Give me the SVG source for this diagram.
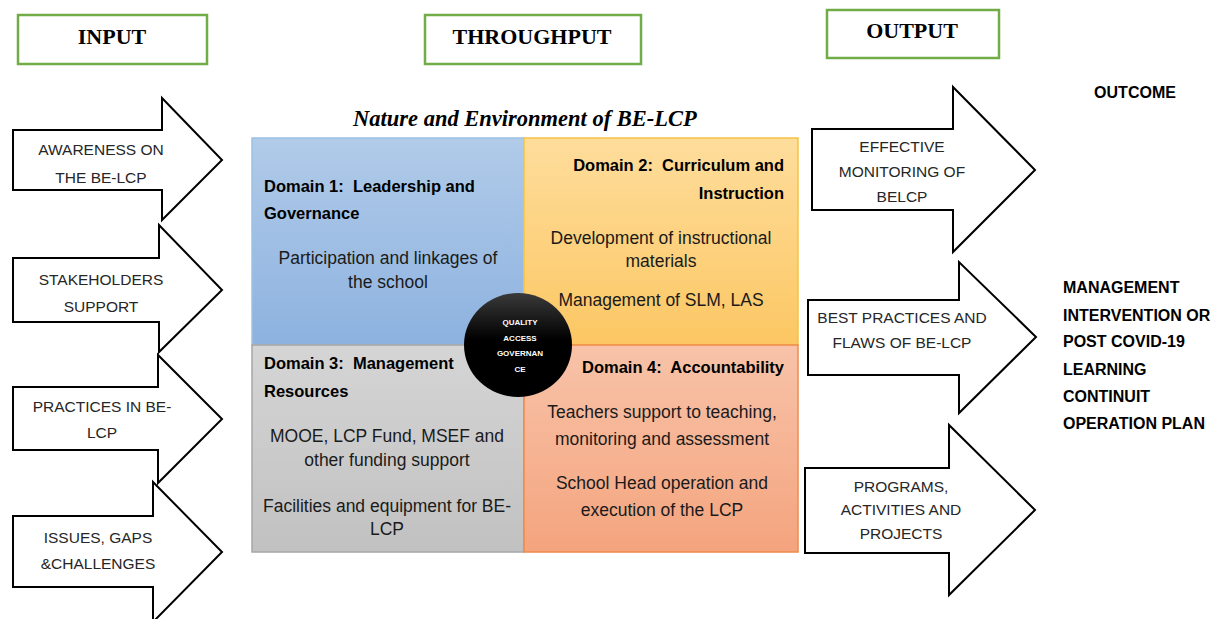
<svg xmlns="http://www.w3.org/2000/svg" width="1223" height="619" viewBox="0 0 1223 619">
  <defs>
    <linearGradient id="gBlue" x1="0" y1="0" x2="0" y2="1">
      <stop offset="0" stop-color="#b1cbe9"/>
      <stop offset="1" stop-color="#8db2df"/>
    </linearGradient>
    <linearGradient id="gYellow" x1="0" y1="0" x2="0" y2="1">
      <stop offset="0" stop-color="#fedd9c"/>
      <stop offset="1" stop-color="#fcc763"/>
    </linearGradient>
    <linearGradient id="gGray" x1="0" y1="0" x2="0" y2="1">
      <stop offset="0" stop-color="#d5d5d5"/>
      <stop offset="1" stop-color="#c1c1c1"/>
    </linearGradient>
    <linearGradient id="gOrange" x1="0" y1="0" x2="0" y2="1">
      <stop offset="0" stop-color="#f8c3a9"/>
      <stop offset="1" stop-color="#f4a47e"/>
    </linearGradient>
    <linearGradient id="gHub" x1="0" y1="0" x2="0" y2="1">
      <stop offset="0" stop-color="#3a3a3a"/>
      <stop offset="0.45" stop-color="#000"/>
      <stop offset="1" stop-color="#000"/>
    </linearGradient>
    <style>
      .hdr { fill: #fff; stroke: #70ad47; stroke-width: 2.5; }
      .hdrText { font-family: "Liberation Serif", serif; font-weight: bold; font-size: 22px; fill: #000; text-anchor: middle; }
      .arrow { fill: #fff; stroke: #000; stroke-width: 2; stroke-linejoin: miter; }
      .arrowText { font-family: "Liberation Sans", Arial, sans-serif; font-size: 15.5px; fill: #262626; text-anchor: middle; }
      .title { font-family: "Liberation Serif", serif; font-weight: bold; font-style: italic; font-size: 22.5px; fill: #000; }
      .dTitle { font-family: "Liberation Sans", Arial, sans-serif; font-weight: bold; font-size: 16.5px; fill: #000; white-space: pre; }
      .dBody { font-family: "Liberation Sans", Arial, sans-serif; font-size: 17.5px; fill: #1a1a1a; text-anchor: middle; }
      .hubText { font-family: "Liberation Sans", Arial, sans-serif; font-weight: bold; font-size: 8px; fill: #fff; text-anchor: middle; }
      .outcome { font-family: "Liberation Sans", Arial, sans-serif; font-weight: bold; font-size: 16px; fill: #000; }
    </style>
  </defs>

  <rect width="1223" height="619" fill="#fff"/>

  <!-- column headers -->
  <g id="hdr-input">
    <rect class="hdr" x="18" y="15" width="189" height="49"/>
    <text class="hdrText" x="112" y="44">INPUT</text>
  </g>
  <g id="hdr-throughput">
    <rect class="hdr" x="425" y="15" width="216" height="49"/>
    <text class="hdrText" x="532" y="44">THROUGHPUT</text>
  </g>
  <g id="hdr-output">
    <rect class="hdr" x="827" y="10" width="172" height="48"/>
    <text class="hdrText" x="912" y="38">OUTPUT</text>
  </g>

  <!-- input arrows -->
  <g id="in-awareness">
    <path class="arrow" d="M13,130 H162 V98 L222,160 L162,220 V190 H13 Z"/>
    <text class="arrowText" x="101" y="155">AWARENESS ON</text>
    <text class="arrowText" x="101" y="183">THE BE-LCP</text>
  </g>
  <g id="in-stakeholders">
    <path class="arrow" d="M13,258 H159 V225 L222,290 L159,352 V322 H13 Z"/>
    <text class="arrowText" x="101" y="285">STAKEHOLDERS</text>
    <text class="arrowText" x="101" y="312">SUPPORT</text>
  </g>
  <g id="in-practices">
    <path class="arrow" d="M13,387 H158 V355 L222,419 L158,483 V450 H13 Z"/>
    <text class="arrowText" x="102" y="412">PRACTICES IN BE-</text>
    <text class="arrowText" x="102" y="438">LCP</text>
  </g>
  <g id="in-issues">
    <path class="arrow" d="M13,516 H153 V482 L222,552 L153,622 V587 H13 Z"/>
    <text class="arrowText" x="98" y="543">ISSUES, GAPS</text>
    <text class="arrowText" x="98" y="569">&amp;CHALLENGES</text>
  </g>

  <!-- throughput: four domains -->
  <text class="title" x="353" y="126">Nature and Environment of BE-LCP</text>

  <g id="domain1">
    <rect x="252" y="138" width="272" height="207" fill="url(#gBlue)" stroke="#9cc2e5" stroke-width="1.5"/>
    <text class="dTitle" x="264" y="192">Domain 1:  Leadership and</text>
    <text class="dTitle" x="264" y="219">Governance</text>
    <text class="dBody" x="388" y="264">Participation and linkages of</text>
    <text class="dBody" x="388" y="288">the school</text>
  </g>
  <g id="domain2">
    <rect x="524" y="138" width="274" height="207" fill="url(#gYellow)" stroke="#f6c343" stroke-width="1.5"/>
    <text class="dTitle" x="784" y="171" text-anchor="end">Domain 2:  Curriculum and</text>
    <text class="dTitle" x="784" y="199" text-anchor="end">Instruction</text>
    <text class="dBody" x="661" y="244">Development of instructional</text>
    <text class="dBody" x="661" y="267">materials</text>
    <text class="dBody" x="661" y="306">Management of SLM, LAS</text>
  </g>
  <g id="domain3">
    <rect x="252" y="345" width="272" height="207" fill="url(#gGray)" stroke="#a6a6a6" stroke-width="1.5"/>
    <text class="dTitle" x="264" y="369">Domain 3:  Management</text>
    <text class="dTitle" x="264" y="397">Resources</text>
    <text class="dBody" x="387" y="442">MOOE, LCP Fund, MSEF and</text>
    <text class="dBody" x="387" y="466">other funding support</text>
    <text class="dBody" x="387" y="512">Facilities and equipment for BE-</text>
    <text class="dBody" x="387" y="535">LCP</text>
  </g>
  <g id="domain4">
    <rect x="524" y="345" width="274" height="207" fill="url(#gOrange)" stroke="#f08b4c" stroke-width="1.5"/>
    <text class="dTitle" x="784" y="373" text-anchor="end">Domain 4:  Accountability</text>
    <text class="dBody" x="662" y="418">Teachers support to teaching,</text>
    <text class="dBody" x="662" y="445">monitoring and assessment</text>
    <text class="dBody" x="662" y="489">School Head operation and</text>
    <text class="dBody" x="662" y="516">execution of the LCP</text>
  </g>
  <g id="hub">
    <ellipse cx="518" cy="345" rx="54" ry="52" fill="url(#gHub)"/>
    <text class="hubText" x="520" y="325">QUALITY</text>
    <text class="hubText" x="520" y="341">ACCESS</text>
    <text class="hubText" x="520" y="356">GOVERNAN</text>
    <text class="hubText" x="520" y="372">CE</text>
  </g>

  <!-- output arrows -->
  <g id="out-monitoring">
    <path class="arrow" d="M812,129 H953 V87 L1035,170 L953,252 V210 H812 Z"/>
    <text class="arrowText" x="902" y="152">EFFECTIVE</text>
    <text class="arrowText" x="902" y="177">MONITORING OF</text>
    <text class="arrowText" x="902" y="202">BELCP</text>
  </g>
  <g id="out-practices">
    <path class="arrow" d="M808,300 H959 V262 L1036,337 L959,413 V375 H808 Z"/>
    <text class="arrowText" x="902" y="323">BEST PRACTICES AND</text>
    <text class="arrowText" x="902" y="348">FLAWS OF BE-LCP</text>
  </g>
  <g id="out-programs">
    <path class="arrow" d="M805,468 H949 V425 L1035,510 L949,595 V553 H805 Z"/>
    <text class="arrowText" x="901" y="492">PROGRAMS,</text>
    <text class="arrowText" x="901" y="515">ACTIVITIES AND</text>
    <text class="arrowText" x="901" y="539">PROJECTS</text>
  </g>

  <!-- outcome -->
  <g id="outcome">
    <text class="outcome" x="1135" y="98" text-anchor="middle">OUTCOME</text>
    <text class="outcome" x="1063" y="293">MANAGEMENT</text>
    <text class="outcome" x="1063" y="321">INTERVENTION OR</text>
    <text class="outcome" x="1063" y="347">POST COVID-19</text>
    <text class="outcome" x="1063" y="375">LEARNING</text>
    <text class="outcome" x="1063" y="402">CONTINUIT</text>
    <text class="outcome" x="1063" y="429">OPERATION PLAN</text>
  </g>
</svg>
